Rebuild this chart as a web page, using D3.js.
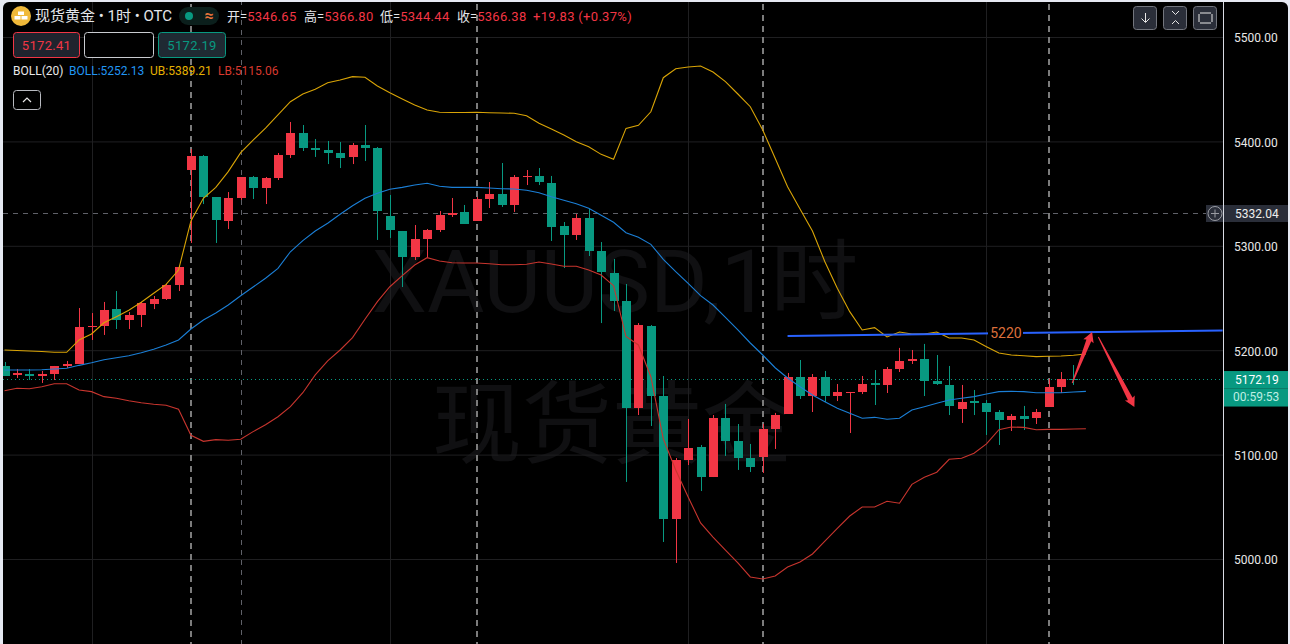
<!DOCTYPE html>
<html>
<head>
<meta charset="utf-8">
<script src="https://cdn.jsdelivr.net/npm/d3@7"></script>
<style>
  html, body { margin: 0; padding: 0; background: #e6e9f2; overflow: hidden; }
  text { font-family: Roboto, "Noto Sans CJK SC", sans-serif; }
</style>
</head>
<body>
<svg id="chart" width="1290" height="644"></svg>
<script>
// Hourly candles
const opens = [5184.9,5176.3,5177.2,5175.3,5177.2,5184.9,5186.8,5222.2,5223.2,5239.4,5228.9,5233.7,5244.2,5249.0,5262.4,5372.6,5386.0,5346.7,5323.8,5345.8,5365.9,5355.4,5364.9,5387.0,5408.0,5393.7,5391.8,5388.9,5385.1,5396.6,5393.7,5328.5,5314.2,5289.3,5306.5,5315.1,5329.5,5332.4,5323.8,5344.8,5349.6,5339.1,5365.9,5366.9,5360.1,5319.0,5310.4,5326.6,5295.0,5273.9,5247.1,5144.6,5223.2,5156.1,5038.3,5094.8,5107.3,5078.5,5135.1,5113.0,5096.7,5097.7,5124.5,5138.9,5174.3,5156.1,5174.3,5156.1,5159.0,5160.0,5168.6,5166.7,5182.0,5189.7,5191.6,5170.5,5166.7,5143.7,5151.3,5149.4,5140.8,5133.1,5137.0,5135.1,5145.6,5164.8,5172.4];
const highs = [5188.7,5182.0,5182.0,5180.1,5184.9,5189.7,5240.4,5235.6,5246.2,5256.7,5236.6,5246.2,5251.9,5263.4,5280.6,5392.7,5387.0,5346.7,5351.5,5365.9,5366.9,5365.9,5388.9,5418.6,5415.7,5402.3,5400.4,5399.4,5398.5,5415.7,5394.6,5348.7,5314.2,5319.9,5316.1,5333.3,5345.8,5339.1,5346.7,5361.1,5379.3,5367.8,5372.6,5374.5,5366.9,5322.8,5330.5,5335.3,5303.6,5287.4,5263.4,5226.0,5224.1,5175.3,5096.7,5134.1,5109.2,5137.9,5148.5,5129.3,5110.2,5129.3,5139.9,5178.2,5190.6,5177.2,5180.1,5167.6,5160.0,5175.3,5181.0,5183.9,5202.2,5200.2,5206.0,5195.4,5184.9,5166.7,5161.9,5152.3,5142.7,5138.9,5146.6,5143.7,5172.4,5179.1,5185.8];
const lows = [5175.3,5173.4,5171.5,5168.6,5171.5,5183.0,5186.8,5209.8,5214.6,5220.3,5220.3,5222.2,5239.4,5248.1,5256.7,5302.7,5340.0,5302.7,5316.1,5343.9,5344.8,5340.0,5363.0,5384.1,5390.8,5385.1,5378.3,5374.5,5378.3,5381.2,5305.6,5307.5,5260.5,5286.4,5288.3,5313.2,5327.6,5320.9,5323.8,5336.2,5337.2,5332.4,5358.2,5358.2,5304.6,5278.7,5305.6,5290.2,5226.0,5237.5,5073.8,5137.9,5127.4,5016.3,4996.2,5090.0,5065.1,5078.5,5098.7,5085.3,5083.3,5082.4,5105.4,5138.9,5153.3,5140.8,5150.4,5151.3,5120.7,5158.0,5147.5,5159.0,5179.1,5186.8,5156.1,5166.7,5137.9,5130.3,5137.9,5118.8,5109.2,5122.6,5123.6,5129.3,5145.6,5159.0,5166.7];
const closes = [5175.3,5178.2,5175.3,5177.2,5184.9,5186.8,5222.2,5223.2,5238.5,5228.9,5233.7,5245.2,5249.0,5262.4,5279.7,5386.0,5346.7,5324.7,5345.8,5365.9,5355.4,5364.9,5387.0,5408.0,5393.7,5391.8,5388.9,5384.1,5396.6,5393.7,5333.3,5315.1,5289.3,5306.5,5315.1,5329.5,5331.4,5320.9,5344.8,5349.6,5339.1,5365.9,5366.9,5361.1,5318.0,5310.4,5326.6,5295.0,5274.9,5247.1,5144.6,5224.1,5156.1,5038.3,5094.8,5106.3,5078.5,5135.1,5113.0,5096.7,5088.1,5124.5,5137.9,5174.3,5156.1,5174.3,5156.1,5160.0,5160.0,5167.6,5166.7,5182.0,5189.7,5191.6,5170.5,5167.6,5146.6,5150.4,5149.4,5140.8,5133.1,5137.0,5134.1,5140.8,5164.8,5172.4,5172.2];

// Bollinger bands, one point per bar plus one past the last candle
const upperBand = [5200.2,5199.7,5199.2,5198.8,5198.0,5198.0,5209.8,5215.5,5226.3,5232.1,5238.2,5245.9,5254.5,5263.1,5276.8,5323.8,5345.5,5356.0,5371.0,5389.2,5401.3,5412.8,5425.3,5438.0,5445.4,5449.9,5456.2,5458.8,5462.0,5461.4,5453.1,5446.6,5440.6,5434.9,5430.1,5427.9,5427.7,5427.7,5427.9,5427.5,5427.2,5426.9,5424.6,5417.3,5411.9,5406.1,5399.7,5394.9,5387.6,5382.9,5412.5,5415.4,5428.4,5461.0,5469.6,5471.3,5472.2,5466.5,5457.2,5445.4,5433.2,5410.9,5383.8,5356.6,5335.3,5314.2,5284.8,5259.3,5236.9,5219.4,5221.6,5212.7,5217.4,5215.5,5215.5,5217.4,5211.7,5211.7,5209.8,5203.4,5197.3,5195.4,5194.7,5193.8,5194.2,5194.4,5195.1,5196.4];
const midBand = [5181.0,5181.0,5181.0,5181.3,5182.0,5182.7,5185.5,5188.0,5190.9,5192.8,5194.7,5197.6,5200.9,5205.0,5209.8,5220.3,5228.9,5235.6,5243.3,5252.2,5260.5,5268.9,5278.4,5294.3,5304.9,5314.2,5321.6,5330.2,5338.4,5345.5,5350.3,5354.1,5356.0,5358.2,5359.9,5357.0,5356.0,5356.0,5356.0,5355.4,5354.7,5354.4,5353.2,5350.9,5347.0,5343.6,5340.3,5335.9,5329.2,5322.5,5312.5,5308.1,5301.4,5287.1,5275.2,5264.1,5252.2,5243.3,5231.5,5219.4,5206.9,5195.4,5183.2,5173.4,5165.0,5157.1,5150.7,5144.4,5139.5,5134.8,5135.7,5133.8,5134.8,5142.7,5145.9,5149.1,5152.3,5153.9,5155.5,5158.0,5160.3,5160.6,5160.3,5159.3,5159.3,5159.3,5160.0,5160.6];
const lowerBand = [5161.2,5163.5,5163.1,5165.0,5167.9,5167.9,5161.9,5160.3,5155.5,5153.9,5151.6,5149.7,5148.2,5147.2,5143.4,5118.5,5112.7,5114.3,5113.7,5114.7,5122.0,5128.6,5136.3,5145.9,5159.3,5176.3,5189.7,5200.2,5212.0,5229.6,5246.5,5260.8,5271.4,5281.6,5288.6,5285.4,5283.8,5283.5,5283.5,5282.8,5281.9,5281.9,5282.3,5284.5,5282.6,5280.4,5280.4,5276.8,5272.0,5261.8,5213.1,5205.0,5174.6,5115.0,5085.3,5059.4,5034.5,5021.0,5008.6,4996.2,4982.8,4980.8,4983.7,4992.3,4997.1,5004.8,5017.2,5029.4,5041.2,5049.8,5049.8,5055.3,5053.4,5071.5,5078.3,5083.1,5095.5,5096.5,5101.3,5110.2,5123.8,5126.4,5126.1,5123.8,5124.2,5124.2,5124.5,5124.8];

const priceTicks = [5000, 5100, 5200, 5300, 5400, 5500];
const gridBars = [7, 31, 55, 79];
const sessionBars = [15, 38, 61, 84];
const crosshairBar = 19;
const crosshairPrice = 5332.04;
const lastPrice = 5172.19;
const countdown = "00:59:53";
const trendLine = [[63, 5213.6], [98, 5218.9]];
const trendLabel = "5220";
const arrows = [[85.9, 5168.6, 87.5, 5217.4], [88, 5212.6, 90.9, 5145.6]];
const headerValues = [["开=", "5346.65", 227], ["高=", "5366.80", 304], ["低=", "5344.44", 380], ["收=", "5366.38", 457]];

const config = {
  plotRight: 1223,
  bodyWidth: 9,
  up: "#f23645",
  down: "#089981",
  grid: "#1f1f21"
};

const svg = d3.select("#chart");
const x = d3.scaleLinear().domain([0, 87]).range([4.5, 4.5 + 87 * 12.43]);
const y = d3.scaleLinear().domain([5000, 5500]).range([559, 37]);
const snap = v => Math.round(v) + 0.5;

// Frame
svg.append("rect").attr("x", 3).attr("y", 2).attr("width", 1285).attr("height", 660)
  .attr("rx", 6).attr("fill", "#000");
svg.append("defs").append("clipPath").attr("id", "plot")
  .append("rect").attr("x", 3).attr("y", 2).attr("width", config.plotRight - 3).attr("height", 642);
const plot = svg.append("g").attr("clip-path", "url(#plot)");

// Watermark
const watermark = plot.append("g").attr("fill", "#101012").attr("text-anchor", "middle");
watermark.append("text").attr("x", 615).attr("y", 312).attr("font-size", 88).text("XAUUSD,1时");
watermark.append("text").attr("x", 612).attr("y", 456).attr("font-size", 90).text("现货黄金");

// Grid, drawn with axes
const yGrid = d3.axisLeft(y).tickValues(priceTicks).tickSize(config.plotRight).tickFormat("");
plot.append("g").attr("transform", `translate(${config.plotRight},0)`).call(yGrid)
  .call(g => g.select(".domain").remove())
  .selectAll("line").attr("stroke", config.grid);
plot.append("g").selectAll("line").data(gridBars).join("line")
  .attr("x1", d => snap(x(d))).attr("x2", d => snap(x(d)))
  .attr("y1", 0).attr("y2", 644).attr("stroke", config.grid);

// Session separators
plot.append("g").selectAll("line").data(sessionBars).join("line")
  .attr("x1", d => Math.round(x(d))).attr("x2", d => Math.round(x(d)))
  .attr("y1", 4).attr("y2", 644)
  .attr("stroke", "#7c7c7c").attr("stroke-width", 2).attr("stroke-dasharray", "6 5");

// Crosshair and last price line (the tag sits a pixel under the scale in the source)
const crossY = snap(y(crosshairPrice)) + 1;
plot.append("line").attr("x1", snap(x(crosshairBar))).attr("x2", snap(x(crosshairBar)))
  .attr("y1", 0).attr("y2", 644)
  .attr("stroke", "#5f6168").attr("stroke-dasharray", "5 5");
plot.append("line").attr("x1", 3).attr("x2", config.plotRight)
  .attr("y1", crossY).attr("y2", crossY)
  .attr("stroke", "#5f6168").attr("stroke-dasharray", "5 5");
plot.append("line").attr("x1", 3).attr("x2", config.plotRight)
  .attr("y1", snap(y(lastPrice))).attr("y2", snap(y(lastPrice)))
  .attr("stroke", config.down).attr("stroke-dasharray", "1 3");

// Candles
const bars = d3.range(opens.length);
const candle = plot.append("g").selectAll("g").data(bars).join("g")
  .attr("fill", i => closes[i] >= opens[i] ? config.up : config.down)
  .attr("stroke", i => closes[i] >= opens[i] ? config.up : config.down);
candle.append("line")
  .attr("x1", i => snap(x(i))).attr("x2", i => snap(x(i)))
  .attr("y1", i => y(highs[i])).attr("y2", i => y(lows[i]));
candle.append("rect")
  .attr("stroke", "none")
  .attr("x", i => Math.round(x(i)) - 4)
  .attr("width", config.bodyWidth)
  .attr("y", i => Math.round(y(Math.max(opens[i], closes[i]))))
  .attr("height", i => Math.max(1, Math.round(y(Math.min(opens[i], closes[i]))) - Math.round(y(Math.max(opens[i], closes[i])))));

// Bollinger lines
const bandLine = d3.line().x((d, i) => x(i)).y(d => y(d));
[[upperBand, "#d9a406"], [midBand, "#1b7fd6"], [lowerBand, "#c8352e"]].forEach(([band, color]) => {
  plot.append("path").attr("d", bandLine(band)).attr("fill", "none")
    .attr("stroke", color).attr("stroke-width", 1.1);
});

// Trend line with its label
plot.append("line")
  .attr("x1", x(trendLine[0][0])).attr("y1", y(trendLine[0][1]))
  .attr("x2", x(trendLine[1][0])).attr("y2", y(trendLine[1][1]))
  .attr("stroke", "#2962ff").attr("stroke-width", 2);
plot.append("rect").attr("x", 988).attr("y", 324).attr("width", 35).attr("height", 18).attr("fill", "#000");
plot.append("text").attr("x", 1006).attr("y", 338).attr("text-anchor", "middle")
  .attr("font-size", 14).attr("fill", "#dd6f3a").text(trendLabel);

// Hand drawn arrows: a body widening to the head
function arrowPath([i0, p0, i1, p1]) {
  const x0 = x(i0), y0 = y(p0), x1 = x(i1), y1 = y(p1);
  const len = Math.hypot(x1 - x0, y1 - y0);
  const ux = (x1 - x0) / len, uy = (y1 - y0) / len;
  const nx = -uy, ny = ux;
  const neck = len - 9;
  const at = (along, side) => [x0 + ux * along + nx * side, y0 + uy * along + ny * side];
  return d3.line()([at(0, -0.5), at(neck, -2.6), at(neck - 1, -5.5), at(len, 0), at(neck - 1, 5.5), at(neck, 2.6), at(0, 0.5)]) + "Z";
}
plot.append("g").selectAll("path").data(arrows).join("path")
  .attr("d", arrowPath).attr("fill", config.up);

// Price axis
svg.append("line").attr("x1", config.plotRight + 0.5).attr("x2", config.plotRight + 0.5)
  .attr("y1", 2).attr("y2", 644).attr("stroke", "#d8dbe3");
const yAxis = d3.axisRight(y).tickValues(priceTicks).tickSize(0).tickPadding(11)
  .tickFormat(d3.format(".2f"));
svg.append("g").attr("transform", `translate(${config.plotRight},1)`).call(yAxis)
  .call(g => g.select(".domain").remove())
  .selectAll("text").attr("fill", "#e8e8e8").attr("font-size", 12)
  .style("font-family", "Roboto, sans-serif");

// Crosshair price tag
svg.append("rect").attr("x", 1206).attr("y", crossY - 8.5).attr("width", 82).attr("height", 17).attr("fill", "#2a2e39");
svg.append("line").attr("x1", config.plotRight + 0.5).attr("x2", config.plotRight + 0.5)
  .attr("y1", crossY - 8.5).attr("y2", crossY + 8.5).attr("stroke", "#d8dbe3");
svg.append("circle").attr("cx", 1215).attr("cy", crossY).attr("r", 7)
  .attr("fill", "none").attr("stroke", "#9a9ca3");
svg.append("path").attr("d", `M1211 ${crossY}H1219M1215 ${crossY - 4}V${crossY + 4}`).attr("stroke", "#9a9ca3");
svg.append("text").attr("x", 1235).attr("y", crossY + 4).attr("font-size", 12).attr("fill", "#eee")
  .text(d3.format(".2f")(crosshairPrice));

// Last price tag
const lastY = y(lastPrice);
svg.append("rect").attr("x", 1224).attr("y", lastY - 8.2).attr("width", 64).attr("height", 35.5).attr("fill", config.down);
svg.append("line").attr("x1", 1224).attr("x2", 1288).attr("y1", lastY + 9.3).attr("y2", lastY + 9.3).attr("stroke", "#0b7a68");
svg.append("text").attr("x", 1235).attr("y", lastY + 4.5).attr("font-size", 12).attr("fill", "#fff")
  .text(d3.format(".2f")(lastPrice));
svg.append("text").attr("x", 1233).attr("y", lastY + 22).attr("font-size", 12).attr("fill", "#bfeee3")
  .text(countdown);

// Header
const header = svg.append("g");
header.append("circle").attr("cx", 21).attr("cy", 16).attr("r", 10).attr("fill", "#f0b93a");
header.append("path").attr("d", "M18 11.5h6v3.5h-6zM14.5 16h6v3.5h-6zM21.5 16h6v3.5h-6z").attr("fill", "#fff");
header.append("text").attr("x", 35).attr("y", 21).attr("font-size", 15).attr("fill", "#e4e6ea").text("现货黄金 • 1时 • OTC");
header.append("rect").attr("x", 179).attr("y", 7).attr("width", 40).attr("height", 18).attr("rx", 9).attr("fill", "#0b1f1c");
header.append("circle").attr("cx", 189).attr("cy", 16).attr("r", 4).attr("fill", config.down);
header.append("text").attr("x", 209).attr("y", 21).attr("text-anchor", "middle").attr("font-size", 16).attr("font-weight", "bold").attr("fill", "#e8743b").text("≈");

headerValues.forEach(([label, value, left]) => {
  const t = header.append("text").attr("x", left).attr("y", 21).attr("font-size", 13);
  t.append("tspan").attr("fill", "#e4e6ea").text(label);
  t.append("tspan").attr("fill", config.up).attr("letter-spacing", 0.3).text(value);
});
header.append("text").attr("x", 533).attr("y", 21).attr("font-size", 13).attr("letter-spacing", 0.3).attr("fill", config.up).text("+19.83 (+0.37%)");

// Order boxes
const boxes = [
  { x: 13.5, w: 66, stroke: config.up, fill: "#20242e", color: config.up, label: "5172.41" },
  { x: 84.5, w: 69, stroke: "#c9cbd0", fill: "#000", color: "#fff", label: "" },
  { x: 158.5, w: 67, stroke: config.down, fill: "#1f2a33", color: config.down, label: "5172.19" }
];
boxes.forEach(b => {
  header.append("rect").attr("x", b.x).attr("y", 32.5).attr("width", b.w).attr("height", 25).attr("rx", 3)
    .attr("fill", b.fill).attr("stroke", b.stroke);
  header.append("text").attr("x", b.x + b.w / 2).attr("y", 50).attr("text-anchor", "middle")
    .attr("font-size", 13).attr("letter-spacing", 0.3).attr("fill", b.color).text(b.label);
});

// Indicator legend
[["BOLL(20)", 13, "#e8e8e8"], ["BOLL:5252.13", 69, "#2196f3"], ["UB:5389.21", 150, "#e5b000"], ["LB:5115.06", 218, "#d8392f"]]
  .forEach(([label, left, color]) => {
    header.append("text").attr("x", left).attr("y", 75).attr("font-size", 12).attr("fill", color).text(label);
  });
header.append("rect").attr("x", 13.5).attr("y", 90.5).attr("width", 27).attr("height", 19).attr("rx", 3)
  .attr("fill", "#000").attr("stroke", "#b8bac0");
header.append("path").attr("d", "M23 102l4-4l4 4").attr("fill", "none").attr("stroke", "#e8e8e8").attr("stroke-width", 1.2);

// Toolbar buttons
const buttonIcons = ["M1145.5 13v9M1141.5 18.5l4 4l4-4", "M1172 11l3.5 3.5l3.5-3.5M1172 24l3.5-3.5l3.5 3.5", "M1200 13h11M1200 23h11M1199 14v8M1212 14v8"];
[1134, 1164, 1194].forEach((left, i) => {
  svg.append("rect").attr("x", left - 0.5).attr("y", 6.5).attr("width", 23).attr("height", 23).attr("rx", 3)
    .attr("fill", "#2a2e39").attr("stroke", "#73767e");
  svg.append("path").attr("d", buttonIcons[i]).attr("fill", "none").attr("stroke", "#e8e8e8");
});
</script>
</body>
</html>
